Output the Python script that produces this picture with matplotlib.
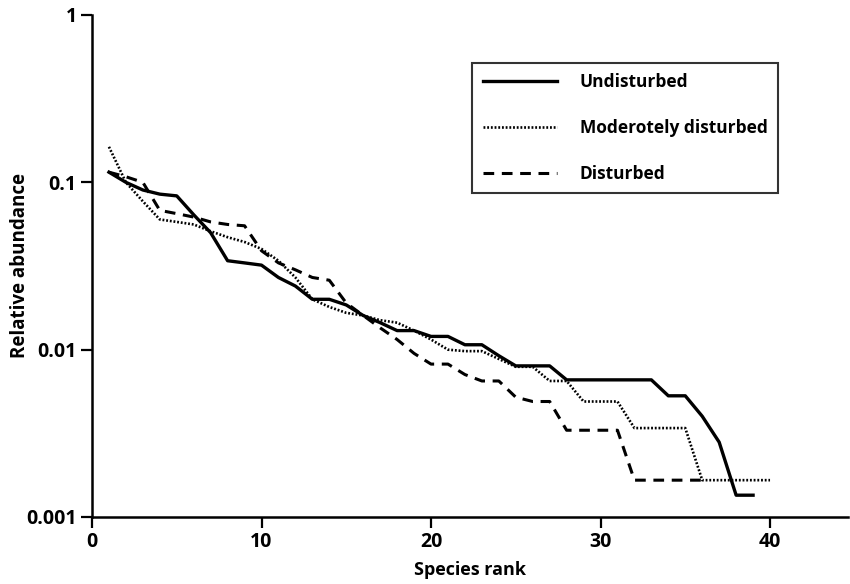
import matplotlib
matplotlib.use("Agg")
import matplotlib.pyplot as plt
import numpy as np

plt.rcParams['font.family'] = ['Open Sans', 'DejaVu Sans']
plt.rcParams['font.weight'] = 'bold'

undisturbed = [0.115, 0.100, 0.090, 0.085, 0.083, 0.064, 0.050, 0.034, 0.033, 0.032,
               0.027, 0.024, 0.020, 0.020, 0.0185, 0.016, 0.0145, 0.013, 0.013, 0.012,
               0.012, 0.0107, 0.0107, 0.0092, 0.008, 0.008, 0.008, 0.0066, 0.0066, 0.0066,
               0.0066, 0.0066, 0.0066, 0.0053, 0.0053, 0.0040, 0.0028, 0.00135, 0.00135]
moderately = [0.163, 0.100, 0.077, 0.060, 0.058, 0.056, 0.051, 0.047, 0.044, 0.040,
              0.034, 0.027, 0.020, 0.018, 0.0166, 0.016, 0.015, 0.0145, 0.013, 0.0115,
              0.010, 0.0098, 0.0098, 0.0088, 0.0079, 0.0079, 0.0065, 0.0065, 0.0049, 0.0049,
              0.0049, 0.0034, 0.0034, 0.0034, 0.0034, 0.00166, 0.00166, 0.00166, 0.00166, 0.00166]
disturbed = [0.115, 0.108, 0.100, 0.068, 0.065, 0.062, 0.058, 0.056, 0.055, 0.039,
             0.033, 0.030, 0.027, 0.026, 0.019, 0.016, 0.0135, 0.0115, 0.0095, 0.0082,
             0.0082, 0.0071, 0.0065, 0.0065, 0.0052, 0.0049, 0.0049, 0.0033, 0.0033, 0.0033,
             0.0033, 0.00166, 0.00166, 0.00166, 0.00166, 0.00166]
labels = ["Undisturbed", "Moderotely disturbed", "Disturbed"]
xticks = [0, 10, 20, 30, 40]
yticks = [0.001, 0.01, 0.1, 1]
yticklabels = ["0.001", "0.01", "0.1", "1"]

fig = plt.figure(figsize=(8.5, 5.84), dpi=100)
ax = fig.add_axes([92/850, 67/584, 756/850, 502/584])

r1 = np.arange(1, len(undisturbed) + 1)
r2 = np.arange(1, len(moderately) + 1)
r3 = np.arange(1, len(disturbed) + 1)
ax.plot(r1, undisturbed, color='black', lw=2.4, linestyle='-', label=labels[0])
ax.plot(r2, moderately, color='black', lw=1.9, linestyle=(0, (0.7, 0.7)), label=labels[1])
ax.plot(r3, disturbed, color='black', lw=2.2, linestyle=(0, (3.5, 2.5)), label=labels[2])

ax.set_yscale('log')
ax.set_ylim(0.001, 1)
ax.set_xlim(0, 44.6)
ax.set_xticks(xticks)
ax.set_xticklabels([str(t) for t in xticks])
ax.set_yticks(yticks)
ax.set_yticklabels(yticklabels)
ax.yaxis.set_minor_locator(matplotlib.ticker.NullLocator())

for s in ['top', 'right']:
    ax.spines[s].set_visible(False)
for s in ['left', 'bottom']:
    ax.spines[s].set_linewidth(1.8)
ax.tick_params(axis='both', which='major', length=8, width=1.6, labelsize=14, direction='out', pad=3)
for lab in ax.get_xticklabels() + ax.get_yticklabels():
    lab.set_fontweight('bold')

ax.set_xlabel("Species rank", fontsize=13, fontweight='bold', labelpad=6)
ax.set_ylabel("Relative abundance", fontsize=13.5, fontweight='bold')
ax.yaxis.set_label_coords(-0.082, 0.5)

leg = ax.legend(loc='upper left', bbox_to_anchor=(0.503, 0.905), frameon=True, fancybox=False,
                edgecolor='black', fontsize=12.5, handlelength=4.3, labelspacing=1.6,
                borderpad=0.6, handletextpad=1.3, borderaxespad=0)
leg.get_frame().set_linewidth(1.5)
for t in leg.get_texts():
    t.set_fontweight('bold')

fig.savefig("out.png", dpi=100)
